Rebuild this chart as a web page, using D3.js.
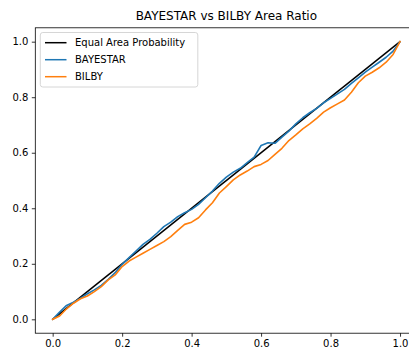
<!DOCTYPE html>
<html>
<head>
<meta charset="utf-8">
<script src="https://cdn.jsdelivr.net/npm/d3@7/dist/d3.min.js"></script>
<style>
  html, body { margin: 0; padding: 0; background: #fff; overflow: hidden; }
  svg { display: block; font-family: "DejaVu Sans", sans-serif; }
</style>
</head>
<body>
<svg id="chart" width="409" height="352"></svg>
<script>
// Cumulative probability: fraction of events vs. area ratio level
const xLevels = [0, .02, .04, .06, .08, .10, .12, .14, .16, .18, .20, .22, .24, .26, .28, .30,
  .32, .34, .36, .38, .40, .42, .44, .46, .48, .50, .52, .54, .56, .58, .60, .62, .64, .66,
  .68, .70, .72, .74, .76, .78, .80, .82, .84, .86, .88, .90, .92, .94, .96, .98, 1.0];

const bayestar = [0, 0.026, 0.050, 0.062, 0.076, 0.092, 0.106, 0.122, 0.144, 0.168, 0.198,
  0.222, 0.246, 0.270, 0.288, 0.310, 0.334, 0.350, 0.370, 0.384, 0.396, 0.414, 0.438, 0.462,
  0.490, 0.512, 0.530, 0.544, 0.564, 0.584, 0.626, 0.636, 0.634, 0.656, 0.678, 0.704, 0.726,
  0.744, 0.760, 0.780, 0.796, 0.812, 0.828, 0.850, 0.870, 0.890, 0.908, 0.926, 0.944, 0.966, 1.0];

const bilby = [0, 0.012, 0.038, 0.058, 0.074, 0.084, 0.100, 0.118, 0.142, 0.160, 0.190,
  0.210, 0.224, 0.238, 0.252, 0.266, 0.280, 0.298, 0.320, 0.342, 0.350, 0.366, 0.394, 0.420,
  0.455, 0.478, 0.502, 0.520, 0.534, 0.550, 0.558, 0.572, 0.594, 0.616, 0.644, 0.664, 0.686,
  0.704, 0.724, 0.746, 0.762, 0.776, 0.790, 0.818, 0.852, 0.876, 0.890, 0.906, 0.926, 0.954, 1.0];

const equalLine = [0, 1];

const tickValues = [0.0, 0.2, 0.4, 0.6, 0.8, 1.0];

const seriesNames = ["Equal Area Probability", "BAYESTAR", "BILBY"];
const seriesColors = ["#000000", "#1f77b4", "#ff7f0e"];

const svg = d3.select("#chart");

// Axes frame (right edge runs past the visible window)
const frame = { left: 35.3, right: 417.4, top: 27.8, bottom: 333.2 };

const x = d3.scaleLinear().domain([-0.05, 1.05]).range([frame.left, frame.right]);
const y = d3.scaleLinear().domain([-0.05, 1.05]).range([frame.bottom, frame.top]);

svg.append("defs").append("clipPath").attr("id", "plotClip")
  .append("rect").attr("x", frame.left).attr("y", frame.top)
  .attr("width", frame.right - frame.left).attr("height", frame.bottom - frame.top);

// Title
svg.append("text")
  .attr("x", (frame.left + frame.right) / 2).attr("y", 19.5)
  .attr("text-anchor", "middle")
  .attr("font-size", 12).attr("fill", "#000")
  .text("BAYESTAR vs BILBY Area Ratio");

// Axes
const xAxis = d3.axisBottom(x).tickValues(tickValues).tickFormat(d3.format(".1f"))
  .tickSize(3.5).tickPadding(3.5).tickSizeOuter(0);
const yAxis = d3.axisLeft(y).tickValues(tickValues).tickFormat(d3.format(".1f"))
  .tickSize(3.5).tickPadding(3.5).tickSizeOuter(0);

const gx = svg.append("g").attr("transform", `translate(0,${frame.bottom})`).call(xAxis);
const gy = svg.append("g").attr("transform", `translate(${frame.left},0)`).call(yAxis);
[gx, gy].forEach(g => {
  g.select(".domain").remove();
  g.selectAll(".tick line").attr("stroke", "#000").attr("stroke-width", 0.8);
  g.selectAll(".tick text").attr("font-size", 10).attr("fill", "#000")
    .attr("font-family", "DejaVu Sans, sans-serif");
});

// Lines
const plot = svg.append("g").attr("clip-path", "url(#plotClip)");
const line = d3.line().x(d => x(d[0])).y(d => y(d[1]));

plot.append("path")
  .datum(equalLine.map(v => [v, v]))
  .attr("d", line).attr("fill", "none")
  .attr("stroke", seriesColors[0]).attr("stroke-width", 1.5);

plot.append("path")
  .datum(xLevels.map((v, i) => [v, bayestar[i]]))
  .attr("d", line).attr("fill", "none")
  .attr("stroke", seriesColors[1]).attr("stroke-width", 1.6)
  .attr("stroke-linejoin", "round").attr("stroke-linecap", "square");

plot.append("path")
  .datum(xLevels.map((v, i) => [v, bilby[i]]))
  .attr("d", line).attr("fill", "none")
  .attr("stroke", seriesColors[2]).attr("stroke-width", 1.6)
  .attr("stroke-linejoin", "round").attr("stroke-linecap", "square");

// Frame spines
svg.append("rect")
  .attr("x", frame.left).attr("y", frame.top)
  .attr("width", frame.right - frame.left).attr("height", frame.bottom - frame.top)
  .attr("fill", "none").attr("stroke", "#000").attr("stroke-width", 0.8);

// Legend
const lg = svg.append("g");
lg.append("rect")
  .attr("x", 40.3).attr("y", 32.5).attr("width", 157.5).attr("height", 54.5)
  .attr("rx", 2.5).attr("fill", "#fff").attr("fill-opacity", 0.8)
  .attr("stroke", "#cccccc").attr("stroke-width", 0.8);
const rowY = [42.7, 59.7, 76.7];
seriesNames.forEach((name, i) => {
  lg.append("line")
    .attr("x1", 45).attr("x2", 66.5).attr("y1", rowY[i]).attr("y2", rowY[i])
    .attr("stroke", seriesColors[i]).attr("stroke-width", 1.5);
  lg.append("text")
    .attr("x", 75).attr("y", rowY[i] + 3.6)
    .attr("font-size", 10).attr("fill", "#000")
    .text(name);
});
</script>
</body>
</html>
